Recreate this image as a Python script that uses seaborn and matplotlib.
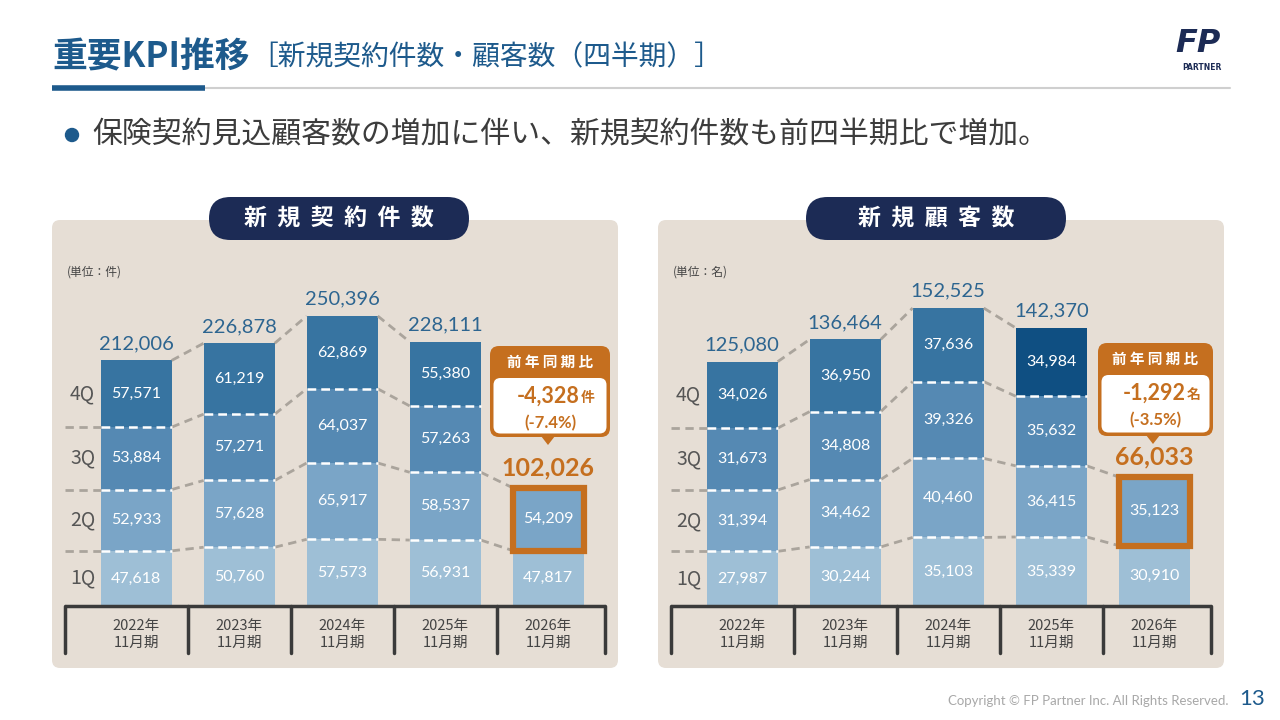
import matplotlib.pyplot as plt
import seaborn as sns
import pandas as pd
import numpy as np
import matplotlib.transforms as mtransforms
from matplotlib.patches import FancyBboxPatch, Rectangle, Polygon, Circle

# ---------------------------------------------------------------
# data
periods = ['2022年\n11月期', '2023年\n11月期', '2024年\n11月期',
           '2025年\n11月期', '2026年\n11月期']
quarters = ['1Q', '2Q', '3Q', '4Q']

contracts_q1 = [47618, 50760, 57573, 56931, 47817]
contracts_q2 = [52933, 57628, 65917, 58537, 54209]
contracts_q3 = [53884, 57271, 64037, 57263, np.nan]
contracts_q4 = [57571, 61219, 62869, 55380, np.nan]

customers_q1 = [27987, 30244, 35103, 35339, 30910]
customers_q2 = [31394, 34462, 40460, 36415, 35123]
customers_q3 = [31673, 34808, 39326, 35632, np.nan]
customers_q4 = [34026, 36950, 37636, 34984, np.nan]

yoy_diff = [-4328, -1292]
yoy_pct = [-7.4, -3.5]
units = ['件', '名']
panel_titles = ['新  規  契  約  件  数', '新  規  顧  客  数']

# ---------------------------------------------------------------
sns.set_theme(style='white')
plt.rcParams['font.family'] = ['Noto Sans CJK JP', 'DejaVu Sans']
NUM = ['Lato', 'Noto Sans CJK JP']

BLUE = '#1d5a8c'
NAVY = '#1c2b55'
ORANGE = '#c56f1f'
BEIGE = '#e6ded5'
GREY_LINE = '#aaa49c'
TXT = '#3c3c3c'
Q_COLORS = ['#9ebfd6', '#7aa5c7', '#5589b3', '#3774a1']
W = 0.69
XL = (-0.69, 4.55)

fig = plt.figure(figsize=(12.8, 7.2), dpi=100)
bg = fig.add_axes([0, 0, 1, 1], zorder=0)
bg.set_xlim(0, 1280)
bg.set_ylim(720, 0)
bg.axis('off')


def fig_axes(x0, x1, ytop, ybot):
    return fig.add_axes([x0 / 1280, 1 - ybot / 720, (x1 - x0) / 1280,
                         (ybot - ytop) / 720], zorder=2)


# header
bg.text(52, 57, '重要KPI推移', fontsize=25, fontweight='bold', color=BLUE,
        va='center', ha='left')
bg.text(250, 57, '［新規契約件数・顧客数（四半期）］', fontsize=20,
        color=BLUE, va='center', ha='left')
bg.plot([205, 1230], [88, 88], color='#cfcfcf', lw=1.5)
bg.plot([52, 205], [88, 88], color=BLUE, lw=4, solid_capstyle='butt')
bg.text(1198, 43, 'FP', fontsize=23, fontweight='bold', style='italic',
        color=NAVY, ha='center', va='center', family='DejaVu Sans')
bg.text(1202, 67, 'PARTNER', fontsize=5.5, fontweight='bold', color=NAVY,
        ha='center', va='center', family='DejaVu Sans')

# bullet
bg.add_patch(Circle((72, 135), 6.5, color=BLUE))
bg.text(92, 135, '保険契約見込顧客数の増加に伴い、新規契約件数も前四半期比で増加。',
        fontsize=21.5, color=TXT, va='center', ha='left')

# footer
bg.text(1228, 701, 'Copyright © FP Partner Inc. All Rights Reserved.',
        fontsize=9.5, color='#a8a8a8', ha='right', va='center', family=NUM)
bg.text(1239, 699, '13', fontsize=16, color=BLUE, ha='left', va='center',
        family=NUM)


def draw_panel(ax, qs, ymax, top_colors):
    q = np.array(qs, dtype=float)
    cum = np.cumsum(q, axis=0)
    totals = np.nansum(q, axis=0)
    x = np.arange(len(periods))

    # stacked bars: draw cumulative layers from the top quarter down
    for k in range(3, -1, -1):
        df = pd.DataFrame({'period': periods, 'value': cum[k]}).dropna()
        colors = top_colors if k == 3 else [Q_COLORS[k]] * len(periods)
        sns.barplot(data=df, x='period', y='value', hue='period',
                    order=periods, hue_order=periods,
                    palette=dict(zip(periods, colors)), legend=False,
                    width=W, saturation=1, linewidth=0, ax=ax)

    # white dashed separators inside bars
    for k in range(3):
        for i in x:
            if not np.isnan(q[k + 1][i]):
                ax.plot([i - W / 2, i + W / 2], [cum[k][i]] * 2, color='white',
                        lw=1.8, ls=(0, (3.5, 2)), zorder=4)

    # grey dashed connectors between bars
    for k in range(4):
        for i in x[:-1]:
            if np.isnan(cum[k][i]) or np.isnan(cum[k][i + 1]):
                continue
            ax.plot([i + W / 2, i + 1 - W / 2], [cum[k][i], cum[k][i + 1]],
                    color=GREY_LINE, lw=2, ls=(0, (3, 2)), zorder=3)
    for k in range(3):
        ax.plot([XL[0], -W / 2], [cum[k][0]] * 2, color=GREY_LINE, lw=2,
                ls=(0, (3, 2)), zorder=3, clip_on=False)

    # quarter labels next to first bar
    for k in range(4):
        ax.text(-0.52, cum[k][0] - q[k][0] / 2, quarters[k], fontsize=14,
                color='#555555', ha='center', va='center')

    # segment values
    for k in range(4):
        for i in x:
            if np.isnan(q[k][i]):
                continue
            ax.text(i, cum[k][i] - q[k][i] / 2, f'{int(q[k][i]):,}',
                    fontsize=11.5, color='white', ha='center', va='center',
                    family=NUM, zorder=5)

    # totals
    for i in x:
        last = i == x[-1]
        ax.annotate(f'{int(totals[i]):,}', (i, totals[i]), xytext=(0, 6),
                    textcoords='offset points', ha='center', va='bottom',
                    fontsize=18 if last else 14.5, family=NUM,
                    fontweight='bold' if last else 'normal',
                    color=ORANGE if last else '#2d6590')

    # highlight latest quarter
    i = x[-1]
    ax.add_patch(Rectangle((i - W / 2, cum[0][i]), W, q[1][i], fill=False,
                           edgecolor=ORANGE, lw=4.5, zorder=6, clip_on=False))

    # category row
    trans = mtransforms.blended_transform_factory(ax.transData, ax.transAxes)
    ax.plot(XL, [0, 0], color='#3a3a3a', lw=2.5, clip_on=False, zorder=6,
            solid_capstyle='butt')
    for sx in [XL[0], 0.5, 1.5, 2.5, 3.5, XL[1]]:
        ax.plot([sx, sx], [0, -0.145], color='#3a3a3a', lw=2.5,
                transform=trans, clip_on=False)
    for i in x:
        ax.text(i, -0.086, periods[i], transform=trans, fontsize=10.5,
                color='#444444', ha='center', va='center', linespacing=1.25)

    ax.set_xlim(*XL)
    ax.set_ylim(0, ymax)
    ax.set_facecolor('none')
    ax.set_xticks([])
    ax.set_yticks([])
    ax.set_xlabel('')
    ax.set_ylabel('')
    sns.despine(ax=ax, left=True, bottom=True)


panels = [
    dict(x0=52, qs=[contracts_q1, contracts_q2, contracts_q3, contracts_q4],
         ymax=281500, top=[Q_COLORS[3]] * 5, ax_x=(65, 605), pill=339,
         call=(490, 346, 120, 91), ptr=548),
    dict(x0=658, qs=[customers_q1, customers_q2, customers_q3, customers_q4],
         ymax=166900, top=[Q_COLORS[3]] * 3 + ['#0f4f82', Q_COLORS[3]],
         ax_x=(671, 1211), pill=936, call=(1098, 343, 115, 93), ptr=1153),
]

for n, p in enumerate(panels):
    x0 = p['x0']
    bg.add_patch(FancyBboxPatch((x0, 220), 566, 448,
                                boxstyle='round,pad=0,rounding_size=8',
                                color=BEIGE, lw=0))
    cx = p['pill']
    bg.add_patch(FancyBboxPatch((cx - 130, 197), 260, 43,
                                boxstyle='round,pad=0,rounding_size=21.5',
                                color=NAVY, lw=0))
    bg.text(cx, 219, panel_titles[n], fontsize=16.5, fontweight='bold',
            color='white', ha='center', va='center')
    bg.text(x0 + 15, 272, f'(単位：{units[n]})', fontsize=8.5, color='#444444',
            ha='left', va='center')

    ax = fig_axes(p['ax_x'][0], p['ax_x'][1], 280, 606)
    draw_panel(ax, p['qs'], p['ymax'], p['top'])

    # year-on-year callout
    bx, by, bw, bh = p['call']
    mid = bx + bw / 2
    bg.add_patch(FancyBboxPatch((bx, by), bw, bh,
                                boxstyle='round,pad=0,rounding_size=9',
                                color=ORANGE, lw=0, zorder=5))
    bg.add_patch(FancyBboxPatch((bx + 3.5, by + 32), bw - 7, bh - 35.5,
                                boxstyle='round,pad=0,rounding_size=7',
                                color='white', lw=0, zorder=6))
    px = p['ptr']
    bg.add_patch(Polygon([(px - 7, by + bh - 1), (px + 7, by + bh - 1),
                          (px, by + bh + 8)], color=ORANGE, lw=0, zorder=5))
    bg.text(mid, by + 16, '前 年 同 期 比', fontsize=10.5, fontweight='bold',
            color='white', ha='center', va='center', zorder=7)
    bg.text(mid + 30, by + 50, f'{yoy_diff[n]:,}', fontsize=15.5,
            fontweight='bold', color=ORANGE, ha='right', va='center',
            family=NUM, zorder=7)
    bg.text(mid + 31, by + 52, units[n], fontsize=10,
            fontweight='bold', color=ORANGE, ha='left', va='center', zorder=7)
    bg.text(mid, by + 77, f'({yoy_pct[n]:.1f}%)', fontsize=12,
            fontweight='bold', color=ORANGE, ha='center', va='center',
            family=NUM, zorder=7)

fig.savefig('out.png', dpi=100)
